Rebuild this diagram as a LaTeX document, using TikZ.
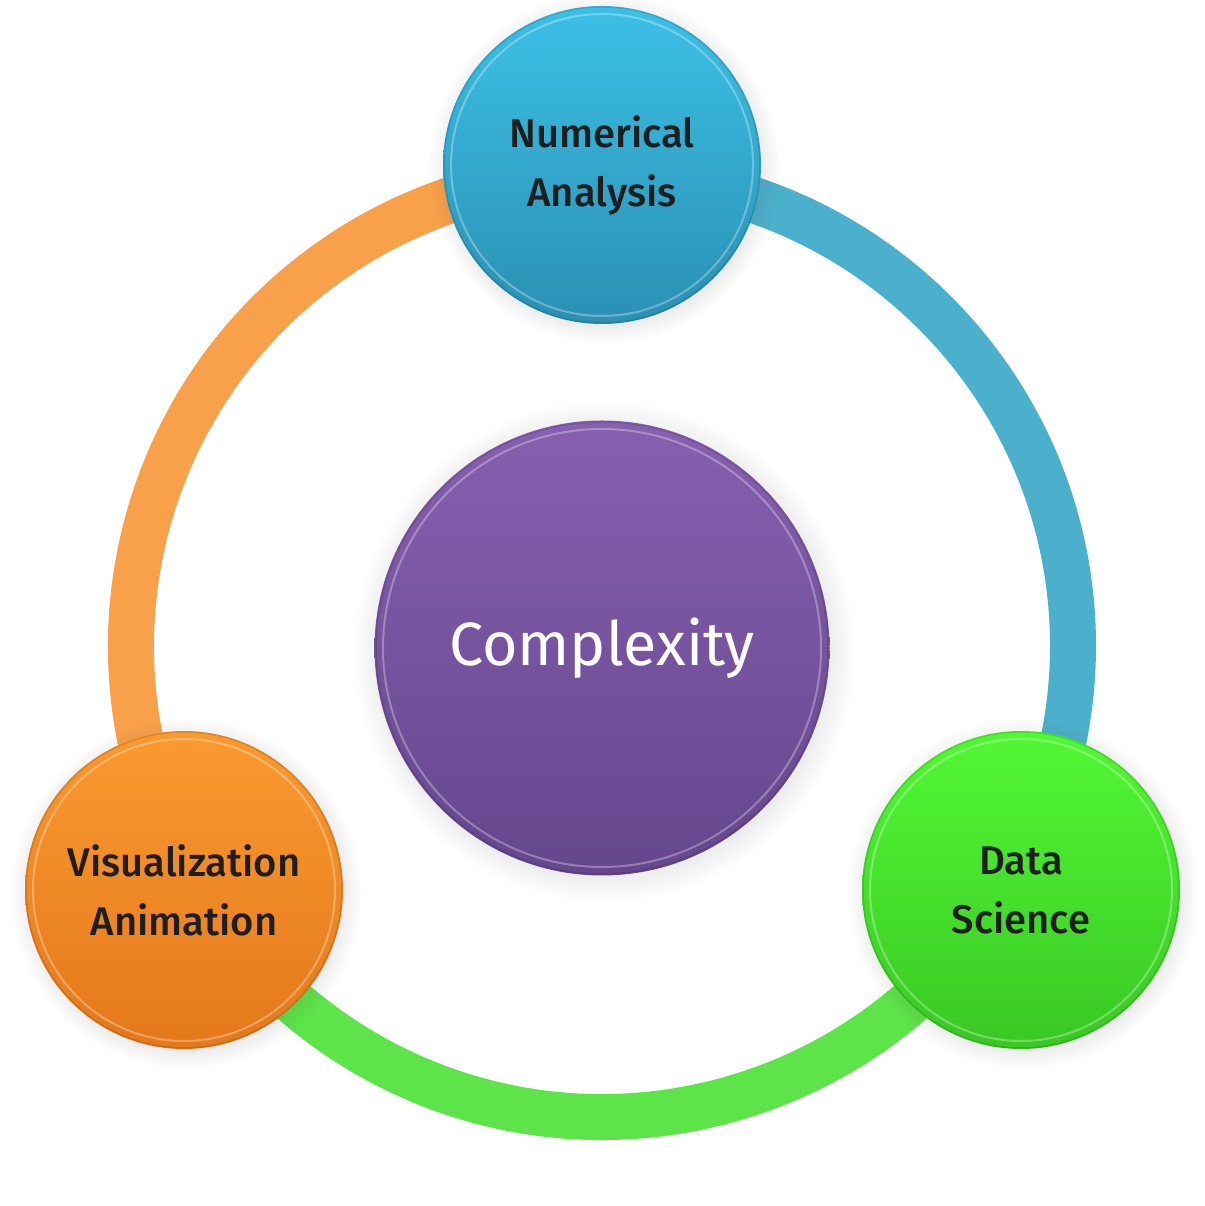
\documentclass[tikz,border=0pt]{standalone}
\usepackage{fontspec}
\setmainfont{Fira Sans}
\newfontfamily\labfont{Fira Sans Medium}
\usetikzlibrary{shadows}
\definecolor{ringB}{HTML}{4BB0CB}
\definecolor{ringG}{HTML}{5DE448}
\definecolor{ringO}{HTML}{F9A04A}
\definecolor{labtext}{HTML}{1E1E1E}
\definecolor{purT}{HTML}{8760B0}
\definecolor{purB}{HTML}{65478D}
\definecolor{bluT}{HTML}{3CC0E6}
\definecolor{bluB}{HTML}{2A90B3}
\definecolor{oraT}{HTML}{FA9A30}
\definecolor{oraB}{HTML}{E4781B}
\definecolor{grnT}{HTML}{52F834}
\definecolor{grnB}{HTML}{3AC824}
\begin{document}
\begin{tikzpicture}[x=1pt,y=1pt,
  ringline/.style={line width=46pt},
  bubble/.style={circle, minimum size=#1, inner sep=0pt, align=center,
    circular drop shadow={shadow xshift=2pt, shadow yshift=-3pt, opacity=0.14, fill=black!70}},
  outerlab/.style={text=labtext, font=\labfont\fontsize{40}{59}\selectfont},
  rim/.style={white, opacity=0.3, line width=2pt},
  edge/.style={black, opacity=0.12, line width=1.5pt}]
\useasboundingbox (0,0) rectangle (1204,1206);
\fill[white] (0,0) rectangle (1204,1206);
% ring
\coordinate (c) at (602,560);
\draw[ringline, ringB] (c) ++(90:471) arc[start angle=90, end angle=-30, radius=471];
\draw[ringline, ringG] (c) ++(-30:471) arc[start angle=-30, end angle=-150, radius=471];
\draw[ringline, ringO] (c) ++(210:471) arc[start angle=210, end angle=90, radius=471];
% bubbles
\node[bubble=455pt, top color=purT, bottom color=purB] (cx) at (602,558) {};
\node[bubble=318pt, top color=bluT, bottom color=bluB] (na) at (602,1041) {};
\node[bubble=318pt, top color=oraT, bottom color=oraB] (va) at (184,316) {};
\node[bubble=318pt, top color=grnT, bottom color=grnB] (ds) at (1021,316) {};
% rims
\foreach \n/\r in {cx/219, na/151, va/151, ds/151}{
  \draw[rim] (\n.center) circle (\r);
  \draw[edge] (\n.center) circle (\r+7);
}
% labels
\node[outerlab, align=center] (nat) at (na.center) {Numerical\\Analysis};
\node[outerlab, align=center] (vat) at (va.center) {Visualization\\Animation};
\node[outerlab, align=center] (dst) at (ds.center) {Data\\Science};
\node[text=white, font=\fontsize{61}{70}\selectfont] (cxt) at (cx.center) {Complexity};
\end{tikzpicture}
\end{document}
